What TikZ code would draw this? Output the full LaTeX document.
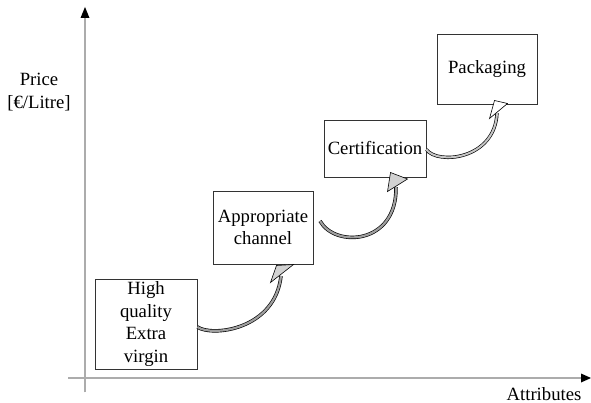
\documentclass[tikz,border=0pt]{standalone}
\usepackage{fontspec}
\setmainfont{Liberation Serif}
\begin{document}
\begin{tikzpicture}[x=1pt,y=-1pt,
  txt/.style={font=\fontsize{18.7}{22.5}\selectfont, align=center, inner sep=0pt},
  box/.style={txt, draw=black!80, line width=0.8pt, fill=white},
  axis/.style={line width=0.75pt, double=gray!65, double distance=1.2pt},
  shaft/.style={line width=0.65pt, double=gray!75, double distance=2.2pt},
  lightshaft/.style={line width=0.65pt, double=gray!45, double distance=2pt},
  head/.style={draw=black, line width=0.6pt, line join=miter, fill=gray!35},
  openhead/.style={head, fill=white}]
\useasboundingbox (0,0) rectangle (591,403);

% axes
\coordinate (ybot) at (85,392);
\coordinate (ytop) at (85,17);
\coordinate (xleft) at (68,378);
\coordinate (xright) at (582,378);
\draw[axis] (ybot) -- (ytop);
\draw[axis] (xleft) -- (xright);
\fill (85,7) -- (80.5,18) -- (89.5,18) -- cycle;
\fill (591,378) -- (581,373.5) -- (581,382.5) -- cycle;

% axis labels
\node[txt] (price) at (39,92) {Price\\{}[€/Litre]};
\node[txt] (attr) at (544,394) {Attributes};

% the four steps
\node[box, minimum width=102pt, minimum height=90pt] (quality) at (146,324)
  {High\\quality\\Extra\\virgin};
\node[box, minimum width=100pt, minimum height=73pt] (channel) at (263,227.5)
  {Appropriate\\channel};
\node[box, minimum width=102pt, minimum height=57pt] (cert) at (375,148.5)
  {Certification};
\node[box, minimum width=100pt, minimum height=70pt] (pack) at (487,69)
  {Packaging};

% curved arrows between the steps
\coordinate (e1) at (281,276);
\coordinate (e2) at (396,187);
\coordinate (e3) at (497,113);

\draw[shaft] ([yshift=-3pt]quality.east) .. controls (212,337) and (275,330) .. (e1);
\draw[head] (276.5,265.5) -- (293.5,264.5) -- (270.5,282.5) -- cycle;

\draw[shaft] (320,221) .. controls (335,248) and (397,245) .. (e2);
\draw[head] (390.5,172.5) -- (407.5,179) -- (387.5,191.5) -- cycle;

\draw[lightshaft] ([yshift=-1pt]cert.east) .. controls (437,165) and (495,160) .. (e3);
\draw[openhead] (494.5,100.5) -- (507.5,103.5) -- (489.5,118.5) -- cycle;
\end{tikzpicture}
\end{document}
